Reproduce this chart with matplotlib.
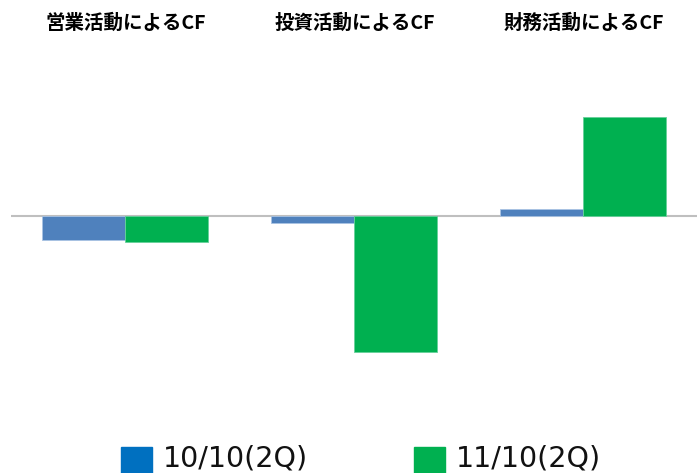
import matplotlib.pyplot as plt
import matplotlib.patches as mpatches
import numpy as np

plt.rcParams['font.family'] = ['Noto Sans CJK JP', 'DejaVu Sans']

categories = ['営業活動によるCF', '投資活動によるCF', '財務活動によるCF']
series = ['10/10(2Q)', '11/10(2Q)']
v_1010 = [-24, -7, 7]
v_1110 = [-26, -136, 99]

bar_colors = ['#4F81BD', '#00B050']
legend_colors = ['#0070C0', '#00B050']

W, H = 697, 473
fig = plt.figure(figsize=(W / 100, H / 100), dpi=100)
ax = fig.add_axes([11 / W, 53 / H, 686 / W, 370 / H])

x = np.arange(len(categories))
w = 0.363
ax.bar(x - w / 2, v_1010, w, color=bar_colors[0], edgecolor='#A9C3E3', linewidth=0.6)
ax.bar(x + w / 2, v_1110, w, color=bar_colors[1], edgecolor='#66D09A', linewidth=0.6)

ax.axhline(0, color='#BFBFBF', linewidth=1.5, zorder=0)
ax.set_xlim(-0.5, 2.5)
ax.set_ylim(-204, 166)
ax.axis('off')

for i, c in enumerate(categories):
    fig.text((126 + 229 * i) / W, 1 - 23 / H, c, ha='center', va='center',
             fontsize=14, fontweight='bold')

# legend drawn by hand to place it like the original
for i, s in enumerate(series):
    x0 = 121 + 293 * i
    fig.add_artist(mpatches.Rectangle((x0 / W, 0), 31 / W, 26 / H,
                                      transform=fig.transFigure, color=legend_colors[i]))
    fig.text((x0 + 42) / W, 1 - 458 / H, s, ha='left', va='center', fontsize=20.5,
             family='DejaVu Sans', color='#111111')

fig.savefig('out.png', dpi=100)
